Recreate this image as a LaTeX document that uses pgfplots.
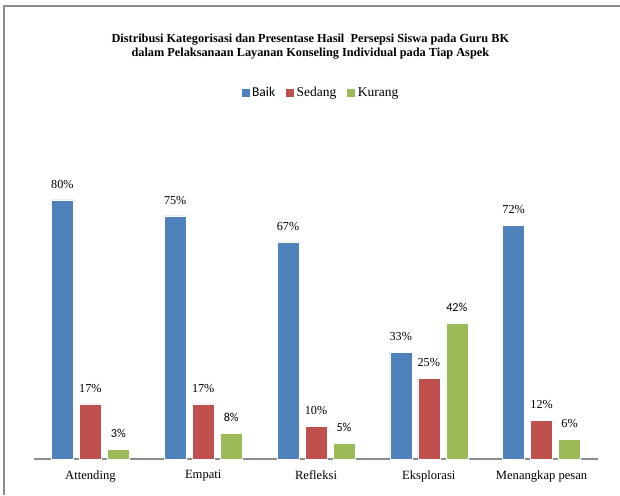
\documentclass[border=0pt]{standalone}
\usepackage{pgfplots}
\pgfplotsset{compat=1.18}
\usepackage{fontspec}
\setmainfont{Liberation Serif}
\newfontfamily\carlito{Carlito}
\definecolor{cBaik}{HTML}{4F81BD}
\definecolor{cSedang}{HTML}{C0504D}
\definecolor{cKurang}{HTML}{9BBB59}
\definecolor{frame}{HTML}{8C8C8C}
\begin{document}
\begin{tikzpicture}[x=1pt,y=1pt]
\path[use as bounding box] (0,0) rectangle (620,495);
\draw[frame, line width=2pt] (4,0) -- (4,489) -- (620,489);
\begin{axis}[
  at={(34pt,36pt)}, anchor=south west,
  scale only axis, width=564pt, height=324pt,
  ymin=0, ymax=100, xmin=-0.5, xmax=4.5,
  ybar=6pt, bar width=22pt,
  axis x line=bottom, axis y line=none,
  x axis line style={-, draw=frame, line width=2pt},
  xtick={0,1,2,3,4},
  xticklabels={Attending,Empati,Refleksi,Eksplorasi,Menangkap pesan},
  major tick length=0pt,
  xticklabel style={font=\fontsize{12.6}{14}\selectfont, yshift=-8pt},
  point meta=explicit symbolic,
  nodes near coords,
  nodes near coords style={font=\fontsize{12.2}{14}\selectfont, yshift=8pt},
  title={Distribusi Kategorisasi dan Presentase Hasil\ \ Persepsi Siswa pada Guru BK\\dalam Pelaksanaan Layanan Konseling Individual pada Tiap Aspek},
  title style={at={(rel axis cs:0.49,1.255)}, anchor=center, align=center, font=\bfseries\fontsize{12.3}{13.5}\selectfont},
  legend columns=3,
  legend style={at={(rel axis cs:0.508,1.13)}, anchor=center, draw=none, font=\fontsize{13.5}{15}\selectfont, /tikz/every even column/.append style={column sep=8pt}, /tikz/every odd column/.append style={column sep=0pt}},
  legend image code/.code={\fill[#1] (0pt,-4.5pt) rectangle (9pt,4.5pt);},
]
\addplot[fill=cBaik, draw=white, line width=0.5pt] coordinates {(0,80) [80\%] (1,75) [75\%] (2,67) [67\%] (3,33) [33\%] (4,72) [72\%]};
\addplot[fill=cSedang, draw=white, line width=0.5pt] coordinates {(0,17) [17\%] (1,17) [17\%] (2,10) [10\%] (3,25) [25\%] (4,12) [12\%]};
\addplot[fill=cKurang, draw=white, line width=0.5pt] coordinates {(0,3) [{\carlito 3\%}] (1,8) [{\carlito 8\%}] (2,5) [{\carlito 5\%}] (3,42) [{\carlito 42\%}] (4,6) [6\%]};
\legend{{\carlito Baik},Sedang,Kurang}
\end{axis}
\end{tikzpicture}
\end{document}
